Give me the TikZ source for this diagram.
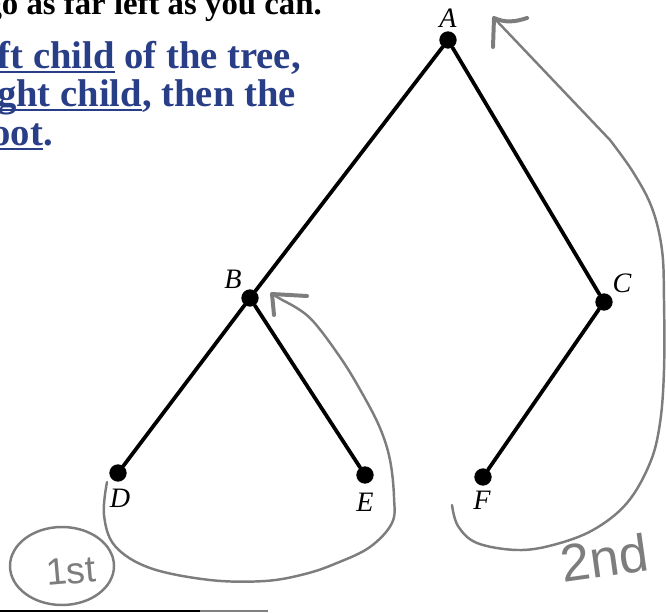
\documentclass[tikz,border=0pt]{standalone}
\usepackage{fontspec}
\setmainfont{Liberation Serif}
\setsansfont{Liberation Sans}
\definecolor{ink}{RGB}{40,62,135}
\definecolor{pencil}{RGB}{125,125,125}
\newsavebox\ulsave
\newcommand\ulbox[1]{\sbox\ulsave{#1}\rlap{\rule[-0.13em]{\wd\ulsave}{0.05em}}\usebox\ulsave}
\begin{document}
\begin{tikzpicture}[x=0.03cm, y=-0.03cm, line cap=round, line join=round,
		dot/.style={circle, fill=black, inner sep=0pt, minimum size=0.52cm},
		lbl/.style={inner sep=0pt, font=\fontsize{24}{24}\selectfont\itshape},
		edge/.style={line width=3.2pt},
		hand/.style={pencil, line width=2.1pt},
		tip/.style={pencil, line width=3.4pt},
		blk/.style={inner sep=0pt, anchor=base east, font=\fontsize{28}{28}\selectfont\bfseries},
		blu/.style={blk, ink, font=\fontsize{33}{33}\selectfont\bfseries},
		note/.style={inner sep=0pt, pencil, font=\sffamily}]
	\useasboundingbox (0,0) rectangle (666,613);
	% the text, cut at the left
	\node[blk] (l1) at (322,14) {go as far left as you can.};
	\node[blu] (l2) at (301,68) {\ulbox{ft child} of the tree,};
	\node[blu] (l3) at (296,106) {\ulbox{ght child}, then the};
	\node[blu] (l4) at (53,145) {\ulbox{oot}.};
	% the tree
	\foreach \n/\x/\y in {A/448/40, B/250/298, C/604/302, D/118/473, E/365/475, F/483/477}{
		\node[dot] (\n) at (\x,\y) {};
	}
	\foreach \n/\x/\y in {A/448/18, B/233/279, C/622/283, D/120/498, E/365/502, F/482/500}{
		\node[lbl] (l\n) at (\x,\y) {\n};
	}
	\foreach \a/\b in {A/B, A/C, B/D, B/E, C/F}{
		\draw[edge] (\a) -- (\b);
	}
	% pencil arrows
	\path (272,294) coordinate (tB) (494,18) coordinate (tA);
	\draw[hand] plot[smooth, tension=0.6] coordinates {(107,482) (104,515) (115,546) (150,568) (210,580) (265,581) (305,574) (337,563) (370,547) (392,523) (394,497) (390,460) (380,428) (362,393) (340,357) (310,318) (284,301)} -- (tB);
	\draw[tip] (tB) -- ++(2,21) (tB) -- (307,296);
	\draw[hand] plot[smooth, tension=0.6] coordinates {(452,505) (458,526) (477,543) (517,550) (553,545) (593,530) (627,503) (650,463) (660,423) (664,370) (664,300) (662,250) (652,208) (633,172) (610,140)} -- (tA);
	\draw[tip] (tA) -- ++(-1,29) (tA) .. controls (505,23) and (515,22) .. (527,18);
	\draw[hand] (62,566) ellipse [x radius=52, y radius=39];
	\node[note, font=\sffamily\fontsize{32}{32}\selectfont, rotate=5] (first) at (71,571) {1st};
	\node[note, font=\sffamily\fontsize{45}{45}\selectfont, rotate=8] (second) at (604,558) {2nd};
	% rule at the bottom
	\draw[line width=2.5pt, line cap=butt] (0,611) -- (200,611);
	\draw[gray, line width=2pt, line cap=butt] (200,611) -- (268,611);
\end{tikzpicture}
\end{document}
